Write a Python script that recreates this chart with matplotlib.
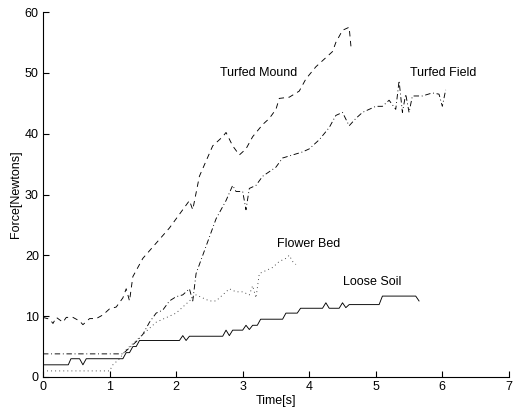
import matplotlib
matplotlib.use("Agg")
import matplotlib.pyplot as plt

plt.rcParams['font.family'] = ['Liberation Sans', 'DejaVu Sans']

# Loose Soil (solid)
soil_t = [0.0, 0.38, 0.42, 0.55, 0.6, 0.65, 1.2, 1.25, 1.3, 1.35, 1.4, 1.45, 2.05, 2.1, 2.15, 2.2,
          2.7, 2.75, 2.8, 2.85, 3.0, 3.05, 3.1, 3.15, 3.22, 3.27, 3.6, 3.65, 3.82, 3.87, 4.2, 4.25, 4.3,
          4.45, 4.5, 4.55, 4.6, 5.05, 5.1, 5.6, 5.65]
soil_f = [2.0, 2.0, 3.0, 3.0, 2.0, 3.0, 3.0, 4.0, 4.0, 5.0, 5.0, 6.0, 6.0, 6.8, 6.0, 6.7,
          6.7, 7.7, 6.8, 7.7, 7.7, 8.5, 7.8, 8.5, 8.5, 9.5, 9.5, 10.5, 10.5, 11.3, 11.3, 12.2, 11.3,
          11.3, 12.2, 11.4, 11.9, 11.9, 13.3, 13.3, 12.5]

# Turfed Mound (dashed)
mound_t = [0.0, 0.1, 0.15, 0.2, 0.3, 0.35, 0.45, 0.55, 0.6, 0.7, 0.8, 0.9, 1.0, 1.1, 1.2, 1.25,
           1.3, 1.35, 1.5, 1.7, 1.9, 2.0, 2.1, 2.2, 2.25, 2.35, 2.45, 2.55, 2.7, 2.75, 2.85, 2.95,
           3.05, 3.15, 3.3, 3.4, 3.5, 3.55, 3.7, 3.85, 3.95, 4.1, 4.2, 4.35, 4.4, 4.5, 4.6, 4.63]
mound_f = [9.8, 9.5, 8.8, 9.8, 9.0, 9.8, 9.8, 9.2, 8.6, 9.6, 9.6, 10.2, 11.2, 11.5, 13.0, 14.5,
           12.5, 16.5, 19.5, 22.0, 24.5, 26.0, 27.5, 29.0, 27.5, 33.0, 35.5, 38.0, 39.5, 40.2, 38.0, 36.5,
           37.5, 39.5, 41.5, 42.5, 44.0, 45.8, 46.0, 47.0, 49.0, 51.0, 52.0, 53.5, 55.0, 57.0, 57.5, 54.0]

# Turfed Field (dash-dot)
field_t = [0.0, 1.2, 1.3, 1.4, 1.5, 1.6, 1.7, 1.8, 1.9, 2.0, 2.1, 2.2, 2.25, 2.3, 2.4, 2.5, 2.6,
           2.75, 2.85, 2.9, 3.0, 3.05, 3.1, 3.2, 3.3, 3.5, 3.6, 3.75, 3.9, 4.0, 4.15, 4.3, 4.4, 4.5,
           4.6, 4.7, 4.8, 5.0, 5.1, 5.2, 5.3, 5.35, 5.4, 5.45, 5.5, 5.55, 5.7, 5.85, 5.95, 6.0, 6.05]
field_f = [3.8, 3.8, 4.8, 5.8, 7.0, 9.0, 10.5, 11.0, 12.5, 13.2, 13.5, 14.5, 12.5, 17.0, 20.0, 23.0, 26.0,
           29.0, 31.5, 30.5, 30.5, 27.5, 31.0, 31.5, 33.0, 34.5, 36.0, 36.5, 37.0, 37.5, 39.0, 41.0, 43.0, 43.5,
           41.3, 42.5, 43.5, 44.5, 44.5, 45.5, 44.0, 48.7, 43.5, 46.5, 43.5, 46.2, 46.2, 46.7, 46.5, 44.5, 47.2]

# Flower Bed (dotted)
flower_t = [0.0, 1.0, 1.05, 1.15, 1.25, 1.4, 1.5, 1.6, 1.7, 1.8, 1.9, 2.0, 2.1, 2.2, 2.3, 2.4,
            2.5, 2.6, 2.7, 2.8, 2.9, 3.0, 3.1, 3.15, 3.2, 3.25, 3.35, 3.45, 3.55, 3.65, 3.7, 3.75, 3.8]
flower_f = [1.0, 1.0, 2.0, 3.0, 4.5, 6.0, 7.0, 8.0, 9.0, 9.5, 10.0, 10.5, 11.5, 12.5, 13.5, 13.0,
            12.5, 12.5, 13.5, 14.5, 14.0, 14.0, 13.5, 15.0, 13.0, 17.0, 17.5, 18.0, 19.0, 19.5, 20.0, 19.0, 18.5]

labels = ["Turfed Mound", "Turfed Field", "Flower Bed", "Loose Soil"]
label_pos = [(2.66, 50.0), (5.51, 50.0), (3.51, 21.9), (4.5, 15.6)]

fig = plt.figure(figsize=(5.13, 4.15), dpi=100)
ax = fig.add_axes([0.0838, 0.0916, 0.9082, 0.8794])

lw = 0.65
ax.plot(soil_t, soil_f, color='black', lw=lw, linestyle='-')
ax.plot(mound_t, mound_f, color='black', lw=lw, linestyle=(0, (6, 5)))
ax.plot(field_t, field_f, color='black', lw=lw, linestyle=(0, (6, 3, 1, 3)))
ax.plot(flower_t, flower_f, color='#333333', lw=lw, linestyle=(0, (1, 3.5)))

for txt, (x, y) in zip(labels, label_pos):
    ax.text(x, y, txt, fontsize=9, ha='left', va='center')

ax.set_xlim(0, 7)
ax.set_ylim(0, 60)
ax.set_xticks(range(0, 8))
ax.set_yticks(range(0, 61, 10))
for s in ['top', 'right']:
    ax.spines[s].set_visible(False)
for s in ['left', 'bottom']:
    ax.spines[s].set_linewidth(0.8)
ax.tick_params(direction='in', length=4, width=0.8, labelsize=9, pad=3)
ax.set_xlabel("Time[s]", fontsize=9, labelpad=1)
ax.set_ylabel("Force[Newtons]", fontsize=9, labelpad=2)

fig.savefig("out.png", dpi=100)
